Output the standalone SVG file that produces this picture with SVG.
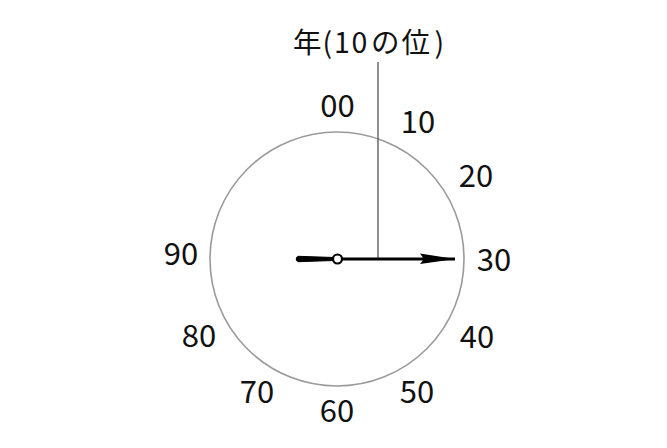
<svg xmlns="http://www.w3.org/2000/svg" width="667" height="448" viewBox="0 0 667 448">
<style>
.lbl{font-family:"Noto Sans CJK JP","Noto Sans",sans-serif;font-size:31px;fill:#111;text-anchor:middle}
.title{font-family:"Noto Sans CJK JP","Noto Sans",sans-serif;font-size:28.5px;fill:#111}
</style>
<rect width="667" height="448" fill="#fff"/>
<g id="dial">
<circle cx="337" cy="259" r="127" fill="none" stroke="#9a9a9a" stroke-width="1.6"/>
</g>
<g id="labels">
<text class="lbl" x="337.5" y="117">00</text>
<text class="lbl" x="418" y="133">10</text>
<text class="lbl" x="476" y="187">20</text>
<text class="lbl" x="494" y="271">30</text>
<text class="lbl" x="477" y="348">40</text>
<text class="lbl" x="417" y="403">50</text>
<text class="lbl" x="337" y="422">60</text>
<text class="lbl" x="257" y="403">70</text>
<text class="lbl" x="199" y="347">80</text>
<text class="lbl" x="181" y="265">90</text>
</g>
<g id="title">
<text class="title" x="293 322.5 334 351.5 371 401.5 434.5" y="53">年(10の位)</text>
</g>
<g id="connectors">
<line x1="378" y1="62" x2="378" y2="258" stroke="#555" stroke-width="1.3"/>
</g>
<g id="hand">
<path d="M298,256.3 L334,257.5 L334,260.5 L298,261.7 Z" fill="#000" stroke="#000" stroke-width="1" stroke-linejoin="round"/>
<circle cx="298.5" cy="259" r="2.7" fill="#000"/>
<line x1="337" y1="259" x2="455" y2="259" stroke="#000" stroke-width="3"/>
<path d="M420,253.5 L452,258.5 L452,259.5 L420,264 L424,259 Z" fill="#000"/>
<circle cx="337.5" cy="259" r="4.5" fill="#fff" stroke="#000" stroke-width="2.2"/>
</g>
</svg>
